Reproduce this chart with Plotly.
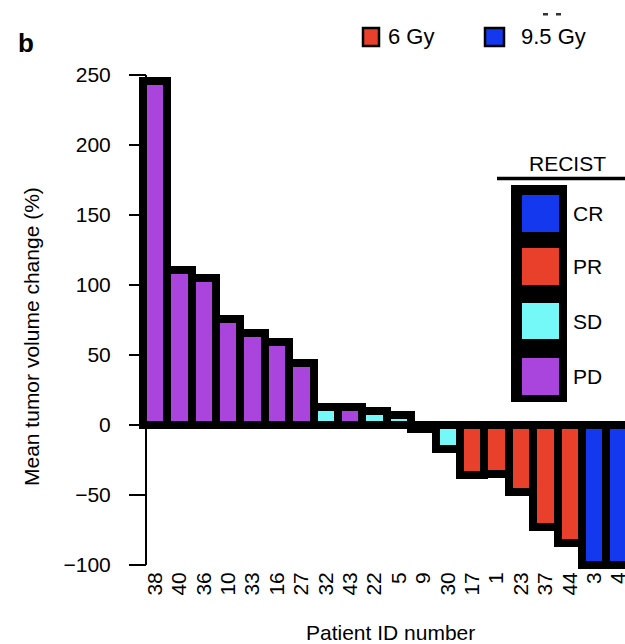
import plotly.graph_objects as go

# ---- data ----
patient_ids = ["38", "40", "36", "10", "33", "16", "27", "32", "43", "22",
               "5", "9", "30", "17", "1", "23", "37", "44", "3", "4"]
volume_change = [246, 111, 105, 76, 66, 59, 44, 13, 13, 10,
                 7, -3, -17, -36, -35, -48, -73, -84, -100, -100]
recist = ["PD", "PD", "PD", "PD", "PD", "PD", "PD", "SD", "PD", "SD",
          "SD", "SD", "SD", "PR", "PR", "PR", "PR", "PR", "CR", "CR"]
recist_order = ["CR", "PR", "SD", "PD"]
y_ticks = [-100, -50, 0, 50, 100, 150, 200, 250]
dose_labels = ["6 Gy", "9.5 Gy"]

colors = {"CR": "#1438EE", "PR": "#E8402A", "SD": "#74F8F8", "PD": "#A944DD"}

W_FIG, H_FIG = 625, 644
L, R, T, B = 138, 0, 72, 72
PW = W_FIG - L - R
PH = H_FIG - T - B
PXU = 1.4  # pixels per unit on y
y_lo = -105
y_hi = y_lo + PH / PXU


def px(x):
    return (x - L) / PW


def py(y):
    return 1 - (y - T) / PH


FONT = "Liberation Sans, Arial, Helvetica, sans-serif"

fig = go.Figure()
fig.add_trace(go.Bar(
    x=list(range(len(patient_ids))),
    y=volume_change,
    width=1.0,
    marker=dict(color=[colors[r] for r in recist],
                line=dict(color="black", width=8)),
    showlegend=False,
    hoverinfo="skip",
))

x_center0 = 155
spacing = 24.4
x_lo = (L - x_center0) / spacing
x_hi = (W_FIG - R - x_center0) / spacing

shapes = []
# y axis line from -100 to 250
shapes.append(dict(type="line", xref="paper", yref="y", x0=px(146), x1=px(146),
                   y0=y_ticks[0], y1=y_ticks[-1], line=dict(color="black", width=2),
                   layer="below"))

annotations = []
# panel letter
annotations.append(dict(text="<b>b</b>", x=px(16), y=py(43), xref="paper", yref="paper",
                        xanchor="left", yanchor="middle", showarrow=False,
                        font=dict(family=FONT, size=26, color="black")))
# axis titles
annotations.append(dict(text="Mean tumor volume change (%)", x=px(31), y=py(337),
                        xref="paper", yref="paper", textangle=-90, showarrow=False,
                        xanchor="center", yanchor="middle",
                        font=dict(family=FONT, size=21, color="black")))
annotations.append(dict(text="Patient ID number", x=px(390), y=py(632),
                        xref="paper", yref="paper", showarrow=False,
                        xanchor="center", yanchor="middle",
                        font=dict(family=FONT, size=21, color="black")))

# dose legend (top)
dose_colors = [colors["PR"], colors["CR"]]
dose_sq = [(363, 379), (485, 504)]
dose_txt = [386, 519]
for lab, col, (a, b), tx in zip(dose_labels, dose_colors, dose_sq, dose_txt):
    shapes.append(dict(type="rect", xref="paper", yref="paper",
                       x0=px(a), x1=px(b), y0=py(28), y1=py(46),
                       fillcolor=col, line=dict(color="black", width=2.5)))
    annotations.append(dict(text=lab, x=px(tx), y=py(37), xref="paper", yref="paper",
                            xanchor="left", yanchor="middle", showarrow=False,
                            font=dict(family=FONT, size=22, color="black")))
# small remnant dashes at top
for a in (543, 556):
    shapes.append(dict(type="rect", xref="paper", yref="paper",
                       x0=px(a), x1=px(a + 5), y0=py(13), y1=py(15.5),
                       fillcolor="#333", line=dict(width=0)))

# RECIST legend
annotations.append(dict(text="RECIST", x=px(567), y=py(164), xref="paper", yref="paper",
                        xanchor="center", yanchor="middle", showarrow=False,
                        font=dict(family=FONT, size=21, color="black")))
shapes.append(dict(type="line", xref="paper", yref="paper", x0=px(497), x1=px(625),
                   y0=py(178.5), y1=py(178.5), line=dict(color="black", width=3.5)))
shapes.append(dict(type="rect", xref="paper", yref="paper", x0=px(511), x1=px(567),
                   y0=py(185), y1=py(402), fillcolor="black", line=dict(width=0)))
sq_rows = [(195, 232), (248, 285), (303, 339), (358, 395)]
for cat, (ya, yb) in zip(recist_order, sq_rows):
    shapes.append(dict(type="rect", xref="paper", yref="paper", x0=px(522), x1=px(559),
                       y0=py(ya), y1=py(yb), fillcolor=colors[cat], line=dict(width=0)))
    annotations.append(dict(text=cat, x=px(571), y=py((ya + yb) / 2), xref="paper",
                            yref="paper", xanchor="left", yanchor="middle",
                            showarrow=False,
                            font=dict(family=FONT, size=21, color="black")))

fig.update_layout(
    width=W_FIG, height=H_FIG,
    margin=dict(l=L, r=R, t=T, b=B, pad=0),
    paper_bgcolor="white", plot_bgcolor="white",
    bargap=0,
    shapes=shapes,
    annotations=annotations,
    xaxis=dict(range=[x_lo, x_hi], tickmode="array",
               tickvals=list(range(len(patient_ids))), ticktext=patient_ids,
               tickangle=-90, ticks="", showline=False, showgrid=False, zeroline=False,
               tickfont=dict(family=FONT, size=21, color="black"),
               ticklabelstandoff=-5, ticklabeloverflow="allow", automargin=False),
    yaxis=dict(range=[y_lo, y_hi], anchor="free", position=px(146),
               tickmode="array", tickvals=y_ticks,
               ticktext=[("\u2212" + str(-v)) if v < 0 else str(v) for v in y_ticks],
               ticks="outside", ticklen=17, tickwidth=2, tickcolor="black",
               showline=False, showgrid=False, zeroline=False, automargin=False,
               tickfont=dict(family=FONT, size=21, color="black"),
               ticklabelstandoff=14),
)

fig.write_html("out.html")
